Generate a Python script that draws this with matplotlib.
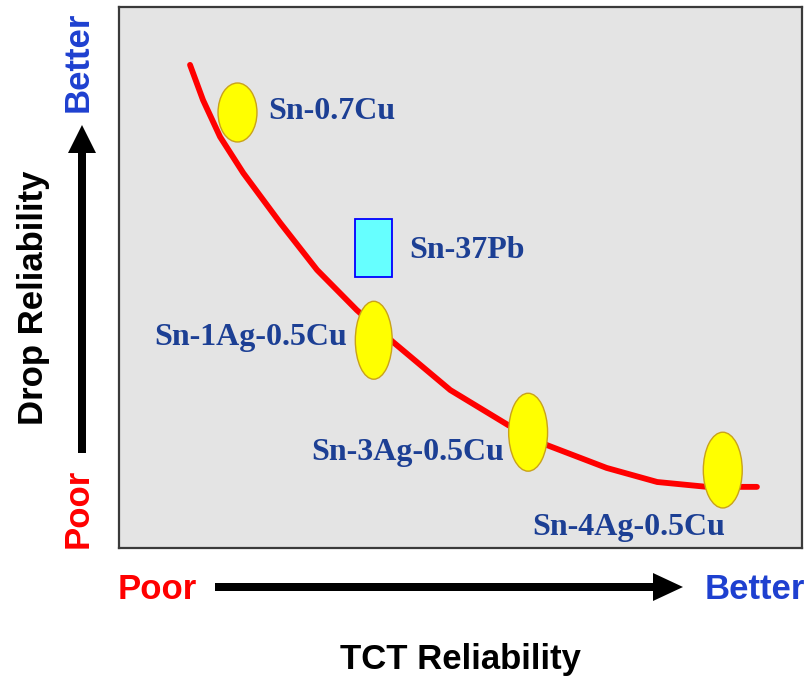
import matplotlib
matplotlib.use("Agg")
import matplotlib.pyplot as plt
from matplotlib.patches import Ellipse, Rectangle, FancyArrow

# Trade-off curve: TCT reliability (x) vs drop reliability (y), relative 0-100 scale
curve_tct = [10.4, 12.3, 14.8, 18.2, 23.6, 29.0, 34.8, 40.1, 48.5, 57.0, 62.7, 71.4, 78.8, 86.1, 93.4]
curve_drop = [89.3, 82.8, 76.0, 69.3, 60.1, 51.4, 44.0, 38.1, 29.2, 22.7, 19.0, 14.8, 12.2, 11.3, 11.3]

# Lead-free SAC / SnCu alloys
alloys = ["Sn-0.7Cu", "Sn-1Ag-0.5Cu", "Sn-3Ag-0.5Cu", "Sn-4Ag-0.5Cu"]
alloy_tct = [17.35, 37.3, 59.9, 88.4]
alloy_drop = [80.5, 38.4, 21.4, 14.4]

# Eutectic tin-lead reference
ref_name = "Sn-37Pb"
ref_tct = 37.25
ref_drop = 55.45

# marker sizes (axis units) and label anchors
ell_w = [5.7, 5.4, 5.7, 5.7]
ell_h = [10.9, 14.4, 14.4, 14.0]
label_xy = [(21.8, 79.3), (5.1, 37.5), (28.1, 16.3), (60.5, 2.4)]
ref_w, ref_h = 5.42, 10.7
ref_label_xy = (42.5, 53.6)

W, H = 810, 679
fig = plt.figure(figsize=(W / 100, H / 100), dpi=100)

L, R, T, B = 119, 802, 7, 548
ax = fig.add_axes([L / W, 1 - B / H, (R - L) / W, (B - T) / H])
ax.set_xlim(0, 100)
ax.set_ylim(0, 100)
ax.set_facecolor("#E4E4E4")
ax.set_xticks([])
ax.set_yticks([])
for s in ax.spines.values():
    s.set_color("#3a3a3a")
    s.set_linewidth(1.6)

ax.plot(curve_tct, curve_drop, color="#FF0000", lw=4.2, solid_capstyle="round",
        solid_joinstyle="round", zorder=2)

label_font = dict(family="Liberation Serif", weight="bold", size=23, color="#1C3F94")

for name, x, y, w, h, (lx, ly) in zip(alloys, alloy_tct, alloy_drop, ell_w, ell_h, label_xy):
    ax.add_patch(Ellipse((x, y), w, h, facecolor="#FFFF00", edgecolor="#C9A21A",
                         lw=1.0, zorder=3))
    ax.text(lx, ly, name, ha="left", va="baseline", zorder=4, **label_font)

ax.add_patch(Rectangle((ref_tct - ref_w / 2, ref_drop - ref_h / 2), ref_w, ref_h,
                       facecolor="#66FFFF", edgecolor="#0000FF", lw=1.3, zorder=3))
ax.text(ref_label_xy[0], ref_label_xy[1], ref_name, ha="left", va="baseline",
        zorder=4, **label_font)

# overlay in pixel units for the qualitative axis arrows and captions
ov = fig.add_axes([0, 0, 1, 1], facecolor="none")
ov.set_xlim(0, W)
ov.set_ylim(H, 0)
ov.axis("off")

sans = dict(family="Liberation Sans", weight="bold", size=25)
blue = "#1E40D0"
red = "#FF0000"

# vertical arrow
ov.add_patch(FancyArrow(82, 453, 0, 125 - 453, width=8, head_width=28, head_length=28,
                        length_includes_head=True, color="black", lw=0))
ov.text(78, 62, "Better", rotation=90, ha="center", va="center", color=blue, **sans)
ov.text(78, 508, "Poor", rotation=90, ha="center", va="center", color=red, **sans)
ov.text(34, 298, "Drop Reliability", rotation=90, ha="center", va="center",
        color="black", **sans)

# horizontal arrow
ov.add_patch(FancyArrow(215, 587, 683 - 215, 0, width=8, head_width=28, head_length=30,
                        length_includes_head=True, color="black", lw=0))
ov.text(118, 599, "Poor", ha="left", va="baseline", color=red, **sans)
ov.text(705, 599, "Better", ha="left", va="baseline", color=blue, **sans)
ov.text(460, 669, "TCT Reliability", ha="center", va="baseline", color="black", **sans)

fig.savefig("out.png", dpi=100)
